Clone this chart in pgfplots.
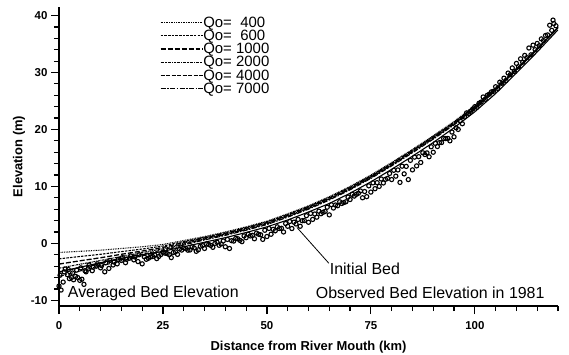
\documentclass[border=0pt]{standalone}
\usepackage{fontspec}
\setmainfont{Liberation Sans}
\usepackage{pgfplots}
\usepackage{pgfplotstable}
\pgfplotsset{compat=1.18}

\pgfplotstableread{
x q400 q600 q1000 q2000 q4000 q7000 init
0   -1.6  -2.72 -3.64 -4.36 -5.08 -5.80 -5.0
5   -1.4  -2.31 -3.07 -3.67 -4.26 -4.86 -4.2
10  -1.2  -1.92 -2.53 -3.01 -3.49 -3.97 -3.4
15  -0.9  -1.45 -1.92 -2.30 -2.68 -3.06 -2.6
20  -0.6  -1.00 -1.35 -1.63 -1.92 -2.21 -2.0
25  -0.2  -0.47 -0.72 -0.93 -1.14 -1.35 -1.4
30   0.5   0.33  0.16  0.01 -0.14 -0.29 -0.6
35   1.2   1.08  0.96  0.84  0.72  0.60  0.2
40   2.0   1.88  1.76  1.64  1.52  1.40  1.0
45   2.9   2.78  2.66  2.54  2.42  2.30  1.9
50   3.9   3.78  3.66  3.54  3.42  3.30  2.9
55   5.2   5.08  4.96  4.84  4.72  4.60  4.1
60   6.6   6.48  6.36  6.24  6.12  6.00  5.5
65   8.2   8.08  7.96  7.84  7.72  7.60  7.0
70  10.0   9.88  9.76  9.64  9.52  9.40  8.8
75  12.0  11.88 11.76 11.64 11.52 11.40 10.8
80  14.2  14.08 13.96 13.84 13.72 13.60 13.0
85  16.5  16.38 16.26 16.14 16.02 15.90 15.3
90  18.9  18.78 18.66 18.54 18.42 18.30 17.7
95  21.4  21.28 21.16 21.04 20.92 20.80 20.3
100 24.2  24.08 23.96 23.84 23.72 23.60 23.1
105 27.3  27.21 27.12 27.03 26.94 26.85 26.3
110 30.7  30.64 30.58 30.52 30.46 30.40 29.9
115 34.2  34.17 34.14 34.11 34.08 34.05 33.6
120 37.9  37.90 37.90 37.90 37.90 37.90 37.5
}\curves

\pgfplotstableread{
x y
0 -7.5
0.5 -8.2
1 -6.8
1.5 -4.5
2 -5.5
2.5 -6.2
3 -6.0
3.5 -6.4
4 -5.8
4.5 -6.0
5 -6.5
5.5 -6.3
6 -7.2
6.5 -5.0
7 -4.5
8 -4.8
9 -4.0
10 -4.3
11 -5.0
12 -4.4
13 -3.8
14 -3.6
15 -3.0
16 -3.4
17 -2.6
18 -2.9
19 -3.2
20 -3.6
21 -2.8
22 -2.4
23 -2.0
24 -2.3
25 -1.6
26 -1.8
27 -2.5
28 -1.5
29 -1.0
30 -0.8
31 -1.2
32 -0.6
33 -1.4
34 -0.5
35 -0.9
36 -0.2
37 -0.7
38 0.2
39 -0.1
40 -0.6
41 -0.9
42 0.4
43 0.8
44 0.3
45 1.0
46 1.3
47 0.8
48 1.6
49 0.7
50 1.2
51 1.6
52 2.2
53 2.6
54 2.0
55 3.0
56 2.6
57 3.4
58 3.0
59 4.0
60 3.7
61 4.2
62 4.6
63 5.2
64 5.6
65 5.0
66 6.2
67 6.6
68 7.0
69 7.3
70 7.7
71 8.3
72 8.8
73 8.0
74 8.2
75 9.0
76 9.6
77 10.0
78 10.6
79 11.4
80 11.2
81 11.8
82 10.7
83 12.2
84 11.2
85 12.9
86 13.6
87 14.2
88 15.6
89 15.2
90 16.0
91 17.0
92 17.7
93 18.4
94 18.0
95 18.7
96 20.0
97 21.0
98 22.9
99 23.2
100 24.0
101 24.6
102 25.7
103 26.0
104 26.6
105 27.5
106 28.3
107 29.0
108 29.9
109 30.8
110 31.6
111 32.4
112 33.0
113 34.3
114 34.8
115 35.1
116 35.9
117 36.5
118 38.3
118.8 39.2
119 38.6
0.25 -5.6
1.25 -5.0
2.25 -4.6
3.25 -5.2
4.25 -4.7
5.25 -4.3
6.25 -4.8
7.25 -3.8
8.25 -4.2
9.25 -3.6
10.25 -3.9
11.25 -3.4
12.25 -3.0
13.25 -3.3
14.25 -2.8
15.25 -2.5
16.25 -2.8
17.25 -2.2
18.25 -2.4
19.25 -2.0
20.5 -2.34
21.5 -2.62
22.5 -2.30
23.5 -2.68
24.5 -1.96
25.5 -1.72
26.5 -1.96
27.5 -1.6
28.5 -1.94
29.5 -1.18
30.5 -0.92
31.5 -1.16
32.5 -0.8
33.5 -1.14
34.5 -0.38
35.5 -0.12
36.5 -0.36
37.5 0.0
38.5 -0.34
39.5 0.42
40.5 0.69
41.5 0.47
42.5 0.85
43.5 0.53
44.5 1.31
45.5 1.6
46.5 1.4
47.5 1.8
48.5 1.5
49.5 2.3
50.5 2.62
51.5 2.46
52.5 2.9
53.5 2.64
54.5 3.48
55.5 3.84
56.5 3.72
57.5 4.2
58.5 3.98
59.5 4.86
60.5 5.25
61.5 5.15
62.5 5.65
63.5 5.45
64.5 6.35
65.5 6.78
66.5 6.74
67.5 7.3
68.5 7.16
69.5 8.12
70.5 8.6
71.5 8.6
72.5 9.2
73.5 9.1
74.5 10.1
75.5 10.62
76.5 10.66
77.5 11.3
78.5 11.24
79.5 12.28
80.5 12.83
81.5 12.89
82.5 13.55
83.5 13.51
84.5 14.57
85.5 15.14
86.5 15.22
87.5 15.9
88.5 15.88
89.5 16.96
90.5 17.56
91.5 17.68
92.5 18.4
93.5 18.42
94.5 19.54
95.5 20.3
96.5 21.5
97.5 22.2
98.5 22.8
99.5 23.6
100.5 23.9
101.5 24.8
102.5 25.3
103.5 26.2
104.5 26.7
105.5 27.2
106.5 28.1
107.5 28.6
108.5 29.6
109.5 30.2
110.5 31.0
111.5 31.8
112.5 32.6
113.5 33.1
114.5 34.0
115.5 34.7
116.5 35.6
117.5 36.6
118.5 37.4
119.5 38.2
}\obs

\begin{document}
\begin{tikzpicture}
\path[use as bounding box] (-59bp,-49bp) rectangle (510bp,306bp);
\begin{axis}[
  at={(0,0)}, anchor=south west,
  scale only axis, width=499bp, height=299bp,
  xmin=0, xmax=120, ymin=-11, ymax=41.5,
  axis x line*=bottom, axis y line*=left,
  axis line style={line width=1.3pt},
  xtick={0,25,50,75,100}, minor xtick={5,10,...,120},
  ytick={-10,0,10,20,30,40}, minor ytick={-8,-6,...,38},
  tick align=outside,
  major tick length=8bp, minor tick length=5bp,
  every tick/.style={black, line width=1.2pt},
  ticklabel style={font=\fontsize{11.5}{12}\selectfont\bfseries},
  xticklabel style={yshift=-4bp},
  /pgf/number format/assume math mode=true,
  xlabel={Distance from River Mouth (km)},
  ylabel={Elevation (m)},
  label style={font=\fontsize{13}{14}\selectfont\bfseries},
  xlabel style={yshift=-5bp},
  ylabel style={yshift=-1bp},
  legend style={draw=none, fill=none, at={(0.196,0.975)}, anchor=north west,
    font=\fontsize{15}{16}\selectfont, row sep=1.3bp, column sep=0pt,
    nodes={inner sep=0pt}},
  legend cell align=left,
  legend image code/.code={\draw[#1] (0bp,0bp) -- (42bp,0bp);},
]
\addplot[black, line width=1.1pt, dash pattern=on 0.8pt off 0.9pt] table[x=x,y=q400] {\curves};
\addplot[black, line width=1.1pt, dash pattern=on 2.5pt off 1.2pt] table[x=x,y=q600] {\curves};
\addplot[black, line width=1.3pt, dash pattern=on 5pt off 2pt] table[x=x,y=q1000] {\curves};
\addplot[black, line width=1.1pt, dash pattern=on 2pt off 0.8pt on 0.8pt off 0.8pt] table[x=x,y=q2000] {\curves};
\addplot[black, line width=1.1pt, dash pattern=on 4pt off 1.5pt] table[x=x,y=q4000] {\curves};
\addplot[black, line width=1.1pt, dash pattern=on 5pt off 1.5pt on 1.5pt off 1.5pt] table[x=x,y=q7000] {\curves};
\addplot[black, line width=1.1pt, forget plot] table[x=x,y=init] {\curves};
\addplot[only marks, mark=o, mark size=2.1bp, mark options={black, line width=1.1pt}, forget plot] table[x=x,y=y] {\obs};
\legend{Qo=\hphantom{1}400, Qo=\hphantom{1}600, Qo= 1000, Qo= 2000, Qo= 4000, Qo= 7000}
\node[anchor=west, font=\fontsize{16}{17}\selectfont, inner sep=0pt] at (axis cs:2.1,-8.7) {Averaged Bed Elevation};
\node[anchor=east, font=\fontsize{16}{17}\selectfont, inner sep=0pt] at (axis cs:116.8,-8.7) {Observed Bed Elevation in 1981};
\node[anchor=west, font=\fontsize{16}{17}\selectfont, inner sep=0pt] at (axis cs:65.1,-4.4) {Initial Bed};
\draw[black, line width=0.8pt] (axis cs:64.9,-3.5) -- (axis cs:57.2,2.8);
\end{axis}
\end{tikzpicture}
\end{document}
